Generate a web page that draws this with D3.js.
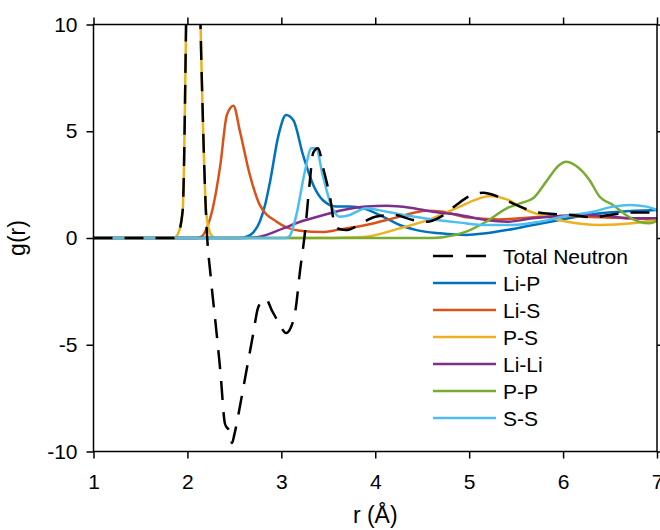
<!DOCTYPE html>
<html>
<head>
<meta charset="utf-8">
<script src="https://cdn.jsdelivr.net/npm/d3@7"></script>
<style>
  html, body { margin: 0; padding: 0; background: #fff; }
  svg { display: block; font-family: "Liberation Sans", Arial, Helvetica, sans-serif; }
</style>
</head>
<body>
<svg id="chart" width="660" height="530"></svg>
<script>
// Pair distribution functions g(r): [r (Å), g(r)] samples per pair
const totalNeutron = [
  [1.0,0],[1.5,0],[1.85,0],[1.9,0.2],[1.95,1.3],[2.0,14],[2.05,23],[2.1,18],[2.15,8],
  [2.2,0.9],[2.25,-1.9],[2.3,-4.0],[2.35,-6.2],[2.4,-8.7],[2.45,-9.1],[2.475,-9.6],[2.5,-9.2],
  [2.55,-8.1],[2.6,-6.9],[2.65,-5.7],[2.7,-4.5],[2.75,-3.3],[2.8,-2.95],[2.835,-2.86],
  [2.9,-3.4],[2.95,-3.8],[3.0,-4.2],[3.05,-4.45],[3.1,-4.2],[3.15,-3.4],[3.2,-1.5],
  [3.25,0.2],[3.3,2.5],[3.34,4.0],[3.39,4.2],[3.45,3.2],[3.52,1.87],[3.57,0.6],[3.62,0.42],
  [3.69,0.37],[3.8,0.55],[3.9,0.8],[4.0,1.0],[4.2,1.08],[4.4,0.84],[4.55,0.76],[4.7,1.0],
  [4.85,1.5],[5.0,1.95],[5.15,2.12],[5.3,1.95],[5.5,1.55],[5.7,1.22],[5.9,1.12],[6.1,1.08],
  [6.3,0.97],[6.5,1.08],[6.7,1.19],[6.85,1.19],[7.0,1.2]
];
const liP = [
  [1.0,0],[2.55,0],[2.63,0.06],[2.7,0.25],[2.77,0.76],[2.83,1.6],[2.88,2.64],[2.97,4.82],
  [3.05,5.76],[3.13,5.5],[3.23,3.9],[3.34,2.48],[3.44,1.78],[3.59,1.47],[3.73,1.47],
  [3.87,1.39],[4.08,1.0],[4.26,0.61],[4.44,0.37],[4.69,0.22],[4.97,0.14],[5.18,0.22],
  [5.4,0.37],[5.68,0.61],[5.96,0.84],[6.25,1.08],[6.6,1.23],[7.0,1.31]
];
const liS = [
  [1.0,0],[2.1,0],[2.15,0.06],[2.2,0.4],[2.27,1.39],[2.35,3.4],[2.42,5.76],[2.49,6.2],
  [2.56,4.98],[2.665,2.95],[2.77,1.55],[2.95,0.76],[3.2,0.34],[3.44,0.28],[3.6,0.38],
  [3.9,0.61],[4.26,1.0],[4.545,1.28],[4.72,1.23],[4.97,0.97],[5.32,0.87],[5.68,0.97],
  [6.03,1.03],[6.39,0.97],[6.74,0.92],[7.0,0.87]
];
const pS = [
  [1.0,0],[1.5,0],[1.85,0],[1.9,0.2],[1.95,1.3],[2.0,14],[2.05,23],[2.1,18],[2.15,8],
  [2.2,1.2],[2.25,0.15],[2.3,0],[3.5,0],[3.7,0.02],[3.9,0.06],[4.26,0.45],[4.61,0.92],
  [4.9,1.47],[5.08,1.81],[5.22,1.97],[5.4,1.81],[5.61,1.31],[5.82,1.0],[6.03,0.77],
  [6.39,0.61],[6.74,0.69],[7.0,0.86]
];
const liLi = [
  [1.0,0],[2.6,0],[2.77,0.06],[3.02,0.45],[3.2,0.76],[3.41,1.03],[3.66,1.31],[3.9,1.47],
  [4.12,1.51],[4.37,1.42],[4.61,1.23],[4.9,1.08],[5.18,0.84],[5.4,0.76],[5.68,0.92],
  [5.96,1.03],[6.25,1.08],[6.53,1.0],[6.74,0.92],[7.0,0.92]
];
const pP = [
  [1.0,0],[4.6,0],[4.72,0.03],[4.97,0.3],[5.18,0.76],[5.4,1.39],[5.54,1.62],[5.68,1.86],
  [5.82,2.64],[5.96,3.42],[6.03,3.57],[6.14,3.37],[6.28,2.72],[6.39,1.93],[6.53,1.55],
  [6.67,1.08],[6.81,0.76],[6.92,0.69],[7.0,0.8]
];
const sS = [
  [1.0,0],[3.05,0],[3.09,0.1],[3.16,1.08],[3.25,3.1],[3.32,4.2],[3.37,4.2],[3.44,2.95],
  [3.53,1.55],[3.62,1.0],[3.73,1.08],[3.8,1.23],[3.9,1.39],[4.12,1.23],[4.37,1.03],
  [4.61,0.87],[4.9,0.72],[5.18,0.61],[5.46,0.61],[5.75,0.76],[6.03,1.03],[6.32,1.23],
  [6.53,1.47],[6.71,1.55],[6.89,1.47],[7.0,1.31]
];

const xTicks = [1, 2, 3, 4, 5, 6, 7];
const yTicks = [-10, -5, 0, 5, 10];

const series = [
  { name: "Li-P",  data: liP,  color: "#0072BD" },
  { name: "Li-S",  data: liS,  color: "#D95319" },
  { name: "P-S",   data: pS,   color: "#EDB120" },
  { name: "Li-Li", data: liLi, color: "#7E2F8E" },
  { name: "P-P",   data: pP,   color: "#77AC30" },
  { name: "S-S",   data: sS,   color: "#4DBEEE" }
];
const total = { name: "Total Neutron", data: totalNeutron, color: "#000", dash: "19,12" };

const svg = d3.select("#chart");
const plot = { left: 93.5, right: 657, top: 24.5, bottom: 451.5 };

const x = d3.scaleLinear().domain([1, 7]).range([plot.left, plot.right]);
const y = d3.scaleLinear().domain([-10, 10]).range([plot.bottom, plot.top]);

svg.append("defs").append("clipPath").attr("id", "plot-clip")
  .append("rect")
  .attr("x", plot.left).attr("y", plot.top)
  .attr("width", plot.right - plot.left).attr("height", plot.bottom - plot.top);

const line = d3.line()
  .x(d => x(d[0]))
  .y(d => y(d[1]))
  .curve(d3.curveMonotoneX);

const lines = svg.append("g").attr("clip-path", "url(#plot-clip)");
series.concat([total]).forEach(s => {
  lines.append("path")
    .datum(s.data)
    .attr("d", line)
    .attr("fill", "none")
    .attr("stroke", s.color)
    .attr("stroke-width", 2.5)
    .attr("stroke-linejoin", "round")
    .attr("stroke-dasharray", s.dash || null);
});

// Axes: ticks pointing outward on all four sides; plain hyphen for negatives
const fontSize = 21;
const plainFormat = d => String(d);
function styleAxis(g, showLabels) {
  g.select(".domain").remove();
  g.selectAll(".tick line").attr("stroke", "#000").attr("stroke-width", 1.5);
  g.selectAll(".tick text").attr("fill", "#000").style("font-size", fontSize + "px")
    .style("font-family", "'Liberation Sans', Arial, sans-serif");
  if (!showLabels) g.selectAll(".tick text").remove();
}

svg.append("g").attr("transform", `translate(0,${plot.bottom})`)
  .call(d3.axisBottom(x).tickValues(xTicks).tickSize(7).tickPadding(16).tickFormat(plainFormat))
  .call(g => styleAxis(g, true));
svg.append("g").attr("transform", `translate(0,${plot.top})`)
  .call(d3.axisTop(x).tickValues(xTicks).tickSize(7))
  .call(g => styleAxis(g, false));
svg.append("g").attr("transform", `translate(${plot.left},0)`)
  .call(d3.axisLeft(y).tickValues(yTicks).tickSize(7).tickPadding(9).tickFormat(plainFormat))
  .call(g => styleAxis(g, true));
svg.append("g").attr("transform", `translate(${plot.right},0)`)
  .call(d3.axisRight(y).tickValues(yTicks).tickSize(7))
  .call(g => styleAxis(g, false));

svg.append("rect")
  .attr("x", plot.left).attr("y", plot.top)
  .attr("width", plot.right - plot.left).attr("height", plot.bottom - plot.top)
  .attr("fill", "none").attr("stroke", "#000").attr("stroke-width", 1.5);

// Axis titles
svg.append("text")
  .attr("x", (plot.left + plot.right) / 2).attr("y", 523)
  .attr("text-anchor", "middle")
  .style("font-size", "23px")
  .text("r (Å)");
svg.append("text")
  .attr("transform", `translate(25,${(plot.top + plot.bottom) / 2}) rotate(-90)`)
  .attr("text-anchor", "middle")
  .style("font-size", "23px")
  .text("g(r)");

// Legend
const legendItems = [total].concat(series);
const legend = svg.append("g");
legendItems.forEach((s, i) => {
  const cy = 256 + i * 27;
  legend.append("line")
    .attr("x1", 433).attr("x2", 496).attr("y1", cy).attr("y2", cy)
    .attr("stroke", s.color).attr("stroke-width", 2.5)
    .attr("stroke-dasharray", s.dash ? "20,13" : null);
  legend.append("text")
    .attr("x", 503).attr("y", cy).attr("dy", "0.36em")
    .style("font-size", fontSize + "px")
    .text(s.name);
});
</script>
</body>
</html>
